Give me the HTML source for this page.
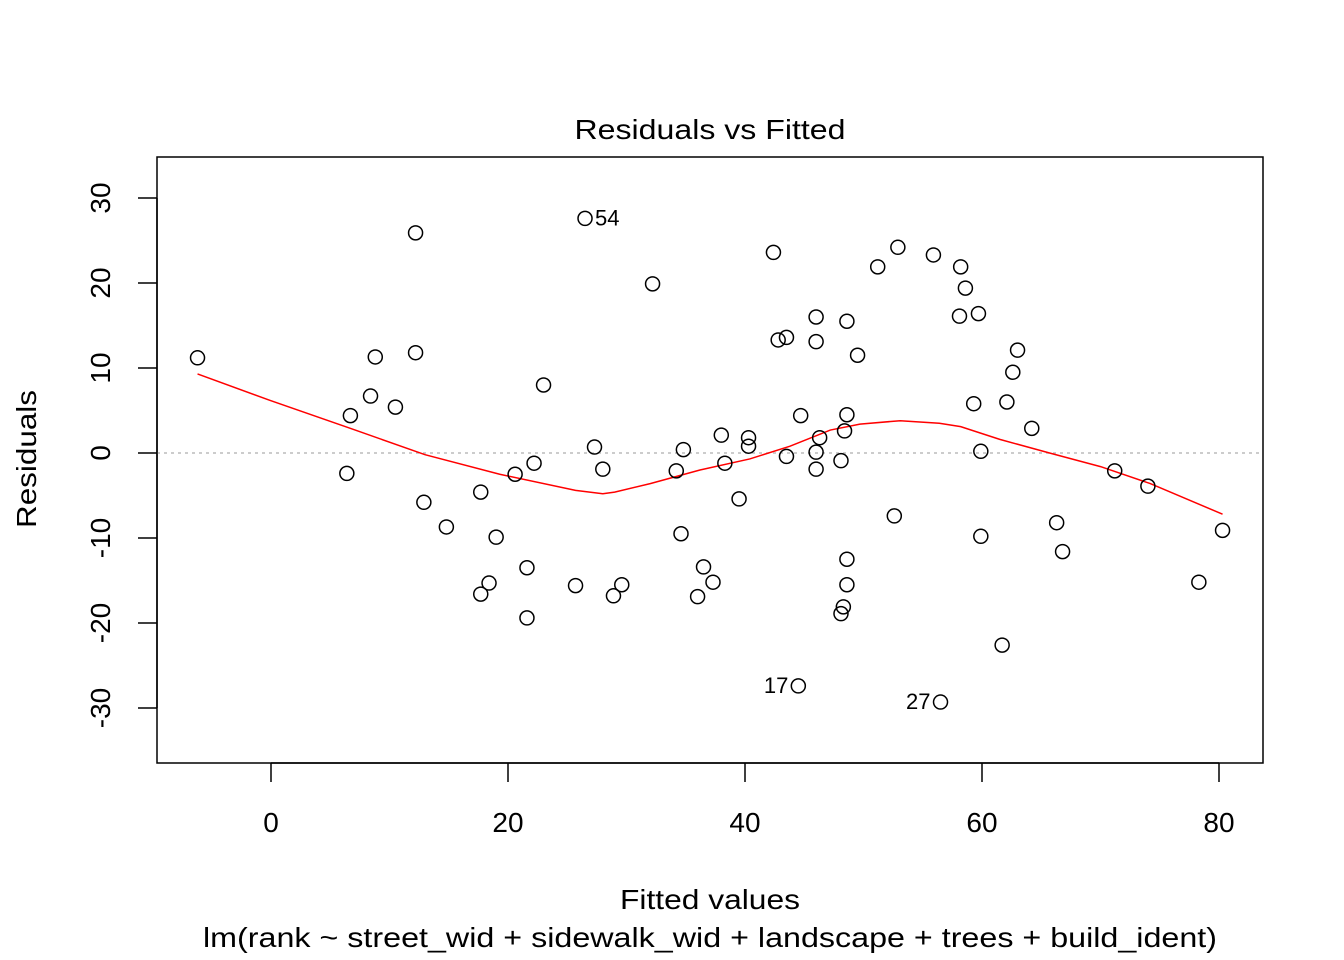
<!DOCTYPE html>
<html><head><meta charset="utf-8"><style>body{margin:0;background:#fff}svg{display:block;font-family:"Liberation Sans",Arial,sans-serif}</style></head>
<body>
<svg id="c" width="1344" height="960">
<text x="710" y="139" font-size="28" text-anchor="middle" textLength="271" lengthAdjust="spacingAndGlyphs">Residuals vs Fitted</text>
<rect x="157" y="157" width="1106" height="606" fill="none" stroke="#000" stroke-width="1.5"/>
<text x="710" y="909" font-size="28" text-anchor="middle" textLength="180" lengthAdjust="spacingAndGlyphs">Fitted values</text>
<text x="710" y="947" font-size="28" text-anchor="middle" textLength="1014" lengthAdjust="spacingAndGlyphs">lm(rank ~ street_wid + sidewalk_wid + landscape + trees + build_ident)</text>
<text transform="translate(36,459) rotate(-90)" font-size="28" text-anchor="middle" textLength="138" lengthAdjust="spacingAndGlyphs">Residuals</text>
<g id="g"></g>
</svg>
<script>
const fittedX=[-6.2,26.5,12.2,32.2,8.8,12.2,8.4,10.5,6.7,6.4,12.9,14.8,23.0,22.2,20.6,17.7,19.0,18.4,17.7,21.6,21.6,25.7,27.3,28.0,28.9,29.6,34.2,34.8,34.6,36.0,36.5,37.3,38.0,38.3,39.5,40.3,40.3,42.4,42.8,43.5,43.5,44.5,44.7,46.0,46.0,46.0,46.0,46.3,48.6,48.4,48.6,48.1,48.6,48.6,48.3,48.1,49.5,51.2,52.9,52.6,55.9,56.5,58.2,58.6,58.1,59.7,59.3,59.9,59.9,61.7,62.1,63.0,62.6,64.2,66.3,66.8,71.2,74.0,78.3,80.3];
const residY=[11.2,27.6,25.9,19.9,11.3,11.8,6.7,5.4,4.4,-2.4,-5.8,-8.7,8.0,-1.2,-2.5,-4.6,-9.9,-15.3,-16.6,-13.5,-19.4,-15.6,0.7,-1.9,-16.8,-15.5,-2.1,0.4,-9.5,-16.9,-13.4,-15.2,2.1,-1.2,-5.4,1.8,0.8,23.6,13.3,13.6,-0.4,-27.4,4.4,16.0,13.1,0.1,-1.9,1.8,15.5,2.6,4.5,-0.9,-12.5,-15.5,-18.1,-18.9,11.5,21.9,24.2,-7.4,23.3,-29.3,21.9,19.4,16.1,16.4,5.8,0.2,-9.8,-22.6,6.0,12.1,9.5,2.9,-8.2,-11.6,-2.1,-3.9,-15.2,-9.1];
const smoothX=[-6.2,-0.1,6.9,13.0,19.3,25.7,28.0,29.0,32.0,36.2,40.4,43.8,47.2,49.7,53.1,56.4,58.2,61.5,65.7,70.0,74.2,80.3];
const smoothY=[9.3,6.2,2.8,-0.2,-2.5,-4.4,-4.8,-4.6,-3.6,-2.0,-0.7,0.8,2.7,3.4,3.8,3.5,3.1,1.6,0,-1.6,-3.6,-7.2];
const xTicks=[0,20,40,60,80];
const yTicks=[-30,-20,-10,0,10,20,30];
const labelIdx=[1,41,61];
const labelText=["54","17","27"];
const labelSide=[1,-1,-1];
const sx=v=>271+v*11.85, sy=v=>453-v*8.5;
const g=document.getElementById('g'),NS='http://www.w3.org/2000/svg';
function mk(t,a){const e=document.createElementNS(NS,t);for(const k in a)e.setAttribute(k,a[k]);g.appendChild(e);return e;}
let e=mk('line',{x1:157,x2:1263,y1:sy(0),y2:sy(0),stroke:'#bbb','stroke-width':1.5,'stroke-dasharray':'3,4'});


e=mk('line',{x1:sx(0),x2:sx(80),y1:763,y2:763,stroke:'#000','stroke-width':1.5});


xTicks.forEach(t=>{mk('line',{x1:sx(t),x2:sx(t),y1:763,y2:782,stroke:'#000','stroke-width':1.5});
 const tx=mk('text',{x:sx(t),y:832,'font-size':28,'text-anchor':'middle'});tx.textContent=t;
 
 });
e=mk('line',{x1:157,x2:157,y1:sy(-30),y2:sy(30),stroke:'#000','stroke-width':1.5});


yTicks.forEach(t=>{mk('line',{x1:138,x2:157,y1:sy(t),y2:sy(t),stroke:'#000','stroke-width':1.5});
 const tx=mk('text',{transform:`translate(110,${sy(t)}) rotate(-90)`,'font-size':28,'text-anchor':'middle'});tx.textContent=t;
 
 });
e=mk('polyline',{points:smoothX.map((x,i)=>sx(x)+','+sy(smoothY[i])).join(' '),fill:'none',stroke:'#f00','stroke-width':1.5});


fittedX.forEach((x,i)=>{const c=mk('circle',{cx:sx(x),cy:sy(residY[i]),r:7,fill:'none',stroke:'#000','stroke-width':1.5});
 
 });
labelIdx.forEach((k,j)=>{const s=labelSide[j];const t=mk('text',{x:sx(fittedX[k])+s*10,y:sy(residY[k])+7,'font-size':22,'text-anchor':s>0?'start':'end'});t.textContent=labelText[j];
 
 });
</script>
</body></html>
